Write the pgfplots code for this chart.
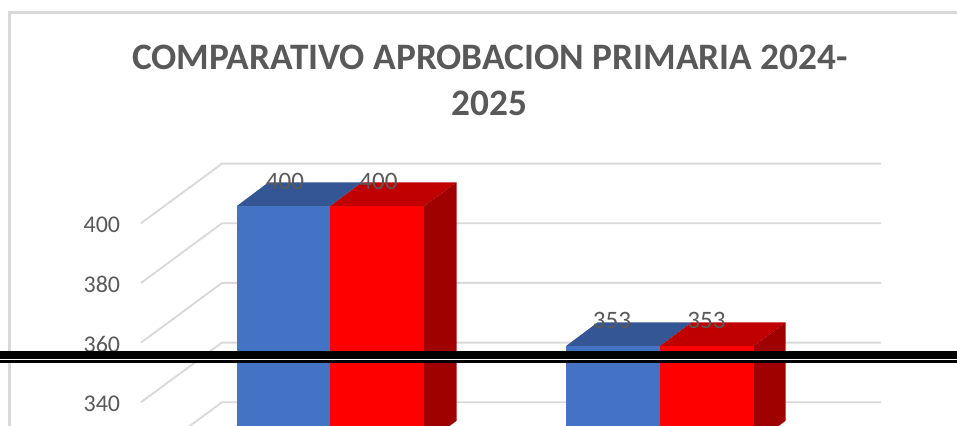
\documentclass[border=0pt]{standalone}
\usepackage{pgfplots}
\pgfplotsset{compat=1.18}
\usepackage{fontspec}
\setmainfont{Carlito}
\definecolor{txt}{HTML}{595959}
\definecolor{gridc}{HTML}{D9D9D9}
\definecolor{bfront}{HTML}{4472C4}
\definecolor{btop}{HTML}{345694}
\definecolor{rfront}{HTML}{FF0000}
\definecolor{rtop}{HTML}{C00000}
\definecolor{rside}{HTML}{9F0000}
% x v d: v = value of the bar, d = depth offset in the 3D projection
\newcommand\facet[2]{\addplot[fill=#1,draw=none,mark=none,forget plot] table[row sep=\\,x=x,y expr=\thisrow{v}+\thisrow{d}] {x v d\\ #2};}
\newcommand\gridl[1]{\addplot[gridc,line width=1.4pt,mark=none,forget plot] coordinates {#1};}
\begin{document}
\begin{tikzpicture}
\begin{axis}[
  scale only axis,
  width=717.75pt,height=319.2pt,
  xmin=0,xmax=957,
  ymin=332.16,ymax=474.87,
  clip=true,
  axis line style={draw=none},
  tick style={draw=none},
  xtick=\empty,
  ytick={340,360,380,400},
  /pgf/number format/assume math mode=true,
  yticklabel style={font=\fontsize{18}{18}\selectfont,text=txt,anchor=east,xshift=93.6pt,yshift=-1.3pt},
]
% chart frame
\addplot[gridc,line width=1.8pt,mark=none,forget plot] coordinates {(9.5,320)(9.5,470.7)(970,470.7)};
% gridlines
\gridl{(141,400)(222,420)(881,420)}
\gridl{(141,380)(222,400)(881,400)}
\gridl{(141,360)(222,380)(881,380)}
\gridl{(141,340)(222,360)(881,360)}
\gridl{(141,320)(222,340)(881,340)}
% first group, 400 and 400
\facet{btop}{236.5 400 5.7\\ 330 400 5.7\\ 362 400 13.75\\ 268.5 400 13.75\\}
\facet{bfront}{236.5 320 5.7\\ 236.5 400 5.7\\ 330 400 5.7\\ 330 320 5.7\\}
\facet{rtop}{330 400 5.7\\ 424 400 5.7\\ 456.5 400 13.75\\ 362 400 13.75\\}
\facet{rside}{424 320 5.7\\ 424 400 5.7\\ 456.5 400 13.75\\ 456.5 320 13.75\\}
\facet{rfront}{330 320 5.7\\ 330 400 5.7\\ 424 400 5.7\\ 424 320 5.7\\}
% second group, 353 and 353
\facet{btop}{565.5 353 5.7\\ 659.5 353 5.7\\ 691.5 353 13.75\\ 597.5 353 13.75\\}
\facet{bfront}{565.5 320 5.7\\ 565.5 353 5.7\\ 659.5 353 5.7\\ 659.5 320 5.7\\}
\facet{rtop}{659.5 353 5.7\\ 753.5 353 5.7\\ 785.5 353 13.75\\ 691.5 353 13.75\\}
\facet{rside}{753.5 320 5.7\\ 753.5 353 5.7\\ 785.5 353 13.75\\ 785.5 320 13.75\\}
\facet{rfront}{659.5 320 5.7\\ 659.5 353 5.7\\ 753.5 353 5.7\\ 753.5 320 5.7\\}
% data labels
\addplot[draw=none,mark=none,forget plot,point meta=explicit symbolic,
  nodes near coords,
  nodes near coords style={anchor=center,font=\fontsize{18.8}{18.8}\selectfont,text=txt}]
  table[row sep=\\,x=x,y expr=\thisrow{v}+\thisrow{d},meta=v] {x v d\\ 285 400 14.0\\ 378.5 400 14.0\\ 612 353 14.3\\ 706.5 353 14.3\\};
% black rule across the picture
\addplot[white,line width=2.25pt,mark=none,forget plot] coordinates {(-5,354.44)(962,354.44)};
\addplot[black,line width=6pt,mark=none,forget plot] coordinates {(-5,355.95)(962,355.95)};
\addplot[black,line width=2pt,mark=none,forget plot] coordinates {(-5,353.7)(962,353.7)};
% title
\node[font=\fontsize{28}{28}\selectfont\bfseries,text=txt] at (axis cs:490,455.7) {COMPARATIVO APROBACION PRIMARIA 2024-};
\node[font=\fontsize{28}{28}\selectfont\bfseries,text=txt] at (axis cs:489.5,440.3) {2025};
\end{axis}
\end{tikzpicture}
\end{document}
